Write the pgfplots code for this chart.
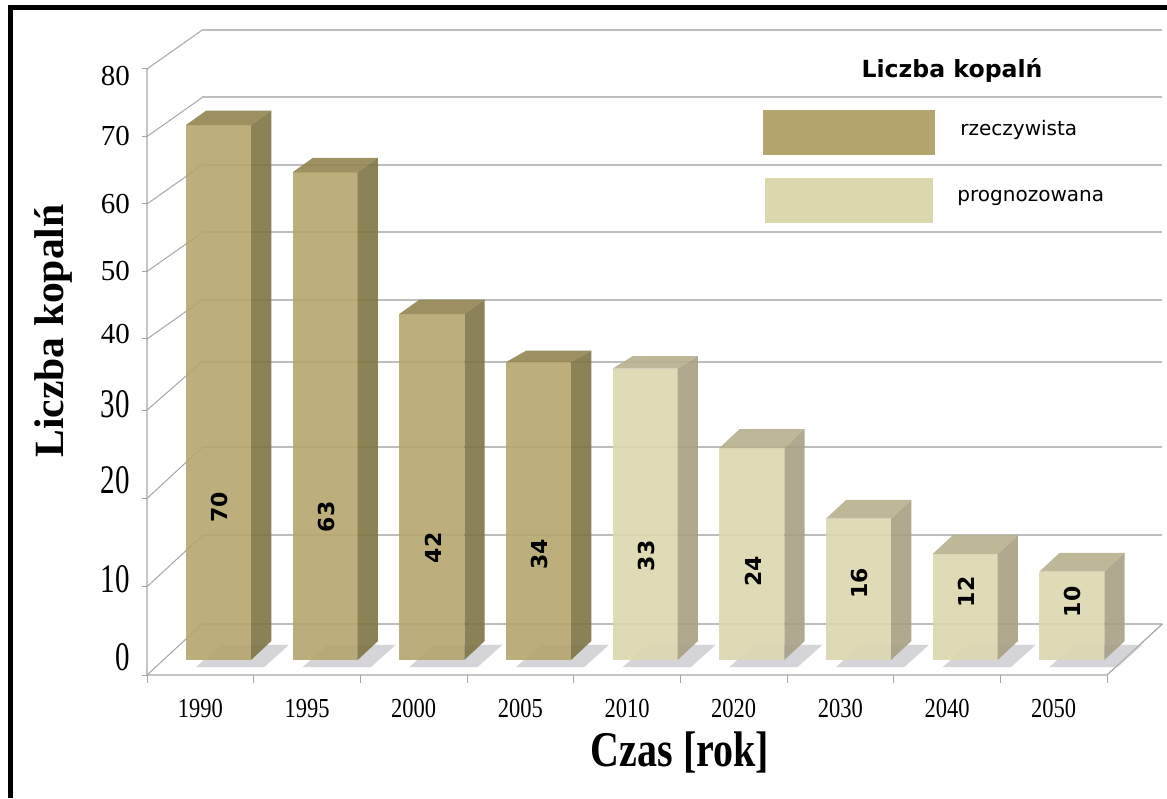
\documentclass[border=0pt]{standalone}
\usepackage{fontspec}
\setmainfont{Liberation Serif}
\newfontfamily\vera{DejaVu Sans}
\usepackage{graphicx}
\usepackage{pgfplots}
\usepackage{pgfplotstable}
\pgfplotsset{compat=1.18}

\definecolor{realfront}{HTML}{B5A66E}
\definecolor{realside}{HTML}{7F7445}
\definecolor{realtop}{HTML}{928550}
\definecolor{forefront}{HTML}{DCD7AF}
\definecolor{foreside}{HTML}{A8A083}
\definecolor{foretop}{HTML}{B7AF8D}
\definecolor{gridgray}{HTML}{BEBEBE}
\definecolor{diaggray}{HTML}{A6A6A6}
\definecolor{shadowgray}{HTML}{BABAC0}
\definecolor{legreal}{HTML}{B4A46D}
\definecolor{legfore}{HTML}{DBD8AD}

% mines per year: i = category slot, v = number of mines, ly = height of the value label
\pgfplotstableread{
i v  ly
0 70 19.0
1 63 17.9
2 42 14.4
3 34 13.7
}\realdata
\pgfplotstableread{
i v  ly
4 33 13.5
5 24 11.7
6 16 10.4
7 12 9.4
8 10 8.3
}\forecastdata

\newcommand\barfont{\vera\bfseries\fontsize{11}{13}\selectfont}
\newcommand\ylab[3]{\raisebox{#2}[\height][\depth]{\scalebox{1}[#3]{#1}}}
\newcommand\xlab[1]{\scalebox{0.9}[1.1]{#1}}

% 3D columns: shadow, front, side and top faces, and the rotated value
\newcommand\drawbars[4]{%
  \pgfplotstablegetrowsof{#1}%
  \pgfmathtruncatemacro\lastrow{\pgfplotsretval-1}%
  \pgfplotsforeachungrouped \r in {0,...,\lastrow}{%
    \pgfplotstablegetelem{\r}{i}\of{#1}\let\bi\pgfplotsretval
    \pgfplotstablegetelem{\r}{v}\of{#1}\let\bv\pgfplotsretval
    \pgfplotstablegetelem{\r}{ly}\of{#1}\let\bly\pgfplotsretval
    \pgfmathsetmacro\xa{\bi+0.365}%
    \pgfmathsetmacro\xb{\bi+0.975}%
    \pgfmathsetmacro\xc{\bi+1.165}%
    \pgfmathsetmacro\xd{\bi+0.555}%
    \pgfmathsetmacro\xm{\bi+0.68}%
    \pgfmathsetmacro\ta{\bv+1.7}%
    \pgfmathsetmacro\tb{\bv+3.84}%
    \pgfmathsetmacro\sa{\bi+0.46}%
    \pgfmathsetmacro\sb{\bi+1.10}%
    \pgfmathsetmacro\sc{\bi+1.33}%
    \pgfmathsetmacro\sd{\bi+0.69}%
    \edef\tmp{%
      \noexpand\addplot[fill=shadowgray, draw=none, fill opacity=0.6]
        coordinates {(\sa,0.9) (\sb,0.9) (\sc,3.4) (\sd,3.4)} --cycle;
      \noexpand\addplot[fill=#2, draw=none, fill opacity=0.9]
        coordinates {(\xa,1.7) (\xb,1.7) (\xb,\ta) (\xa,\ta)} --cycle;
      \noexpand\addplot[fill=#3, draw=none, fill opacity=0.9]
        coordinates {(\xb,1.7) (\xc,3.84) (\xc,\tb) (\xb,\ta)} --cycle;
      \noexpand\addplot[fill=#4, draw=none, fill opacity=0.9]
        coordinates {(\xa,\ta) (\xb,\ta) (\xc,\tb) (\xd,\tb)} --cycle;
      \noexpand\node[rotate=90, font=\noexpand\barfont] at (axis cs:\xm,\bly) {\bv};
    }\tmp
  }%
}

\begin{document}
\begin{tikzpicture}
\useasboundingbox (0,0) rectangle (583.5pt,399pt);

\begin{axis}[
  at={(73.5pt,61.5pt)}, anchor=south west,
  scale only axis, width=508pt, height=323.25pt,
  xmin=0, xmax=9.525, ymin=0, ymax=86,
  y coord trafo/.code={\pgfmathparse{((#1)<=35)*8.83*(#1)
      +((#1)>35)*((#1)<=40)*(309.05+5.39*((#1)-35))
      +((#1)>40)*(336+6.75*((#1)-40))}},
  clip=false,
  axis x line*=bottom, axis y line*=left,
  axis line style={draw=none},
  tick align=outside,
  major tick length=2.5pt,
  ytick={0,10,...,80},
  yticklabels={\ylab{0}{9pt}{1.4},\ylab{10}{4pt}{1.4},\ylab{20}{9pt}{1.4},\ylab{30}{3pt}{1.4},
               \ylab{40}{2.5pt}{1},\ylab{50}{0pt}{1},\ylab{60}{0pt}{1},\ylab{70}{0pt}{1},\ylab{80}{-3.5pt}{1}},
  yticklabel style={font=\fontsize{14.5}{15}\selectfont, xshift=-2.5pt},
  ytick style={draw=diaggray, line width=0.5pt},
  xtick={0.5,1.5,...,8.5},
  xticklabels={\xlab{1990},\xlab{1995},\xlab{2000},\xlab{2005},\xlab{2010},
               \xlab{2020},\xlab{2030},\xlab{2040},\xlab{2050}},
  xticklabel style={font=\fontsize{12.5}{13}\selectfont, yshift=-6pt},
  xtick style={draw=none},
]
% floor
\addplot[fill=white, draw=none] coordinates {(0,0) (9,0) (9.52,5.8) (0.52,5.8)} --cycle;
% side wall diagonals and back wall grid
\pgfplotsforeachungrouped \gv in {0,10,...,80}{%
  \pgfmathsetmacro\gy{\gv+5.8}%
  \edef\tmp{%
    \noexpand\draw[diaggray, line width=0.5pt] (axis cs:0,\gv) -- (axis cs:0.52,\gy);
    \noexpand\draw[gridgray, line width=1pt] (axis cs:0.52,\gy) -- (axis cs:9.52,\gy);
  }\tmp
}
% front edges
\draw[diaggray, line width=0.6pt] (axis cs:0,80) -- (axis cs:0,0) -- (axis cs:9,0) -- (axis cs:9.52,5.8);
\pgfplotsforeachungrouped \k in {0,...,9}{%
  \edef\tmp{\noexpand\draw[diaggray, line width=0.5pt] (axis cs:\k,0) -- ++(0,-4pt);}\tmp
}
% columns
\drawbars{\realdata}{realfront}{realside}{realtop}
\drawbars{\forecastdata}{forefront}{foreside}{foretop}
\end{axis}

% axis titles
\node[rotate=90, font=\bfseries\fontsize{20.8}{22}\selectfont] at (26.75pt,233.5pt) {Liczba kopalń};
\node[anchor=base, font=\bfseries\fontsize{20}{22}\selectfont] at (340pt,16pt) {\scalebox{1}[1.25]{Czas [rok]}};

% legend
\node[font=\vera\bfseries\fontsize{11.8}{14}\selectfont] at (476pt,364pt) {Liczba kopalń};
\fill[legreal] (381.5pt,321.5pt) rectangle (467.5pt,344pt);
\node[anchor=west, font=\vera\fontsize{10}{12}\selectfont, inner sep=0pt] at (480pt,334pt) {rzeczywista};
\fill[legfore] (382.5pt,287.5pt) rectangle (466.5pt,310pt);
\node[anchor=west, font=\vera\fontsize{10}{12}\selectfont, inner sep=0pt] at (478.5pt,300pt) {prognozowana};

% frame
\draw[line width=2.5pt, line join=miter] (5.25pt,0) -- (5.25pt,395.25pt) -- (583.5pt,395.25pt);
\end{tikzpicture}
\end{document}
